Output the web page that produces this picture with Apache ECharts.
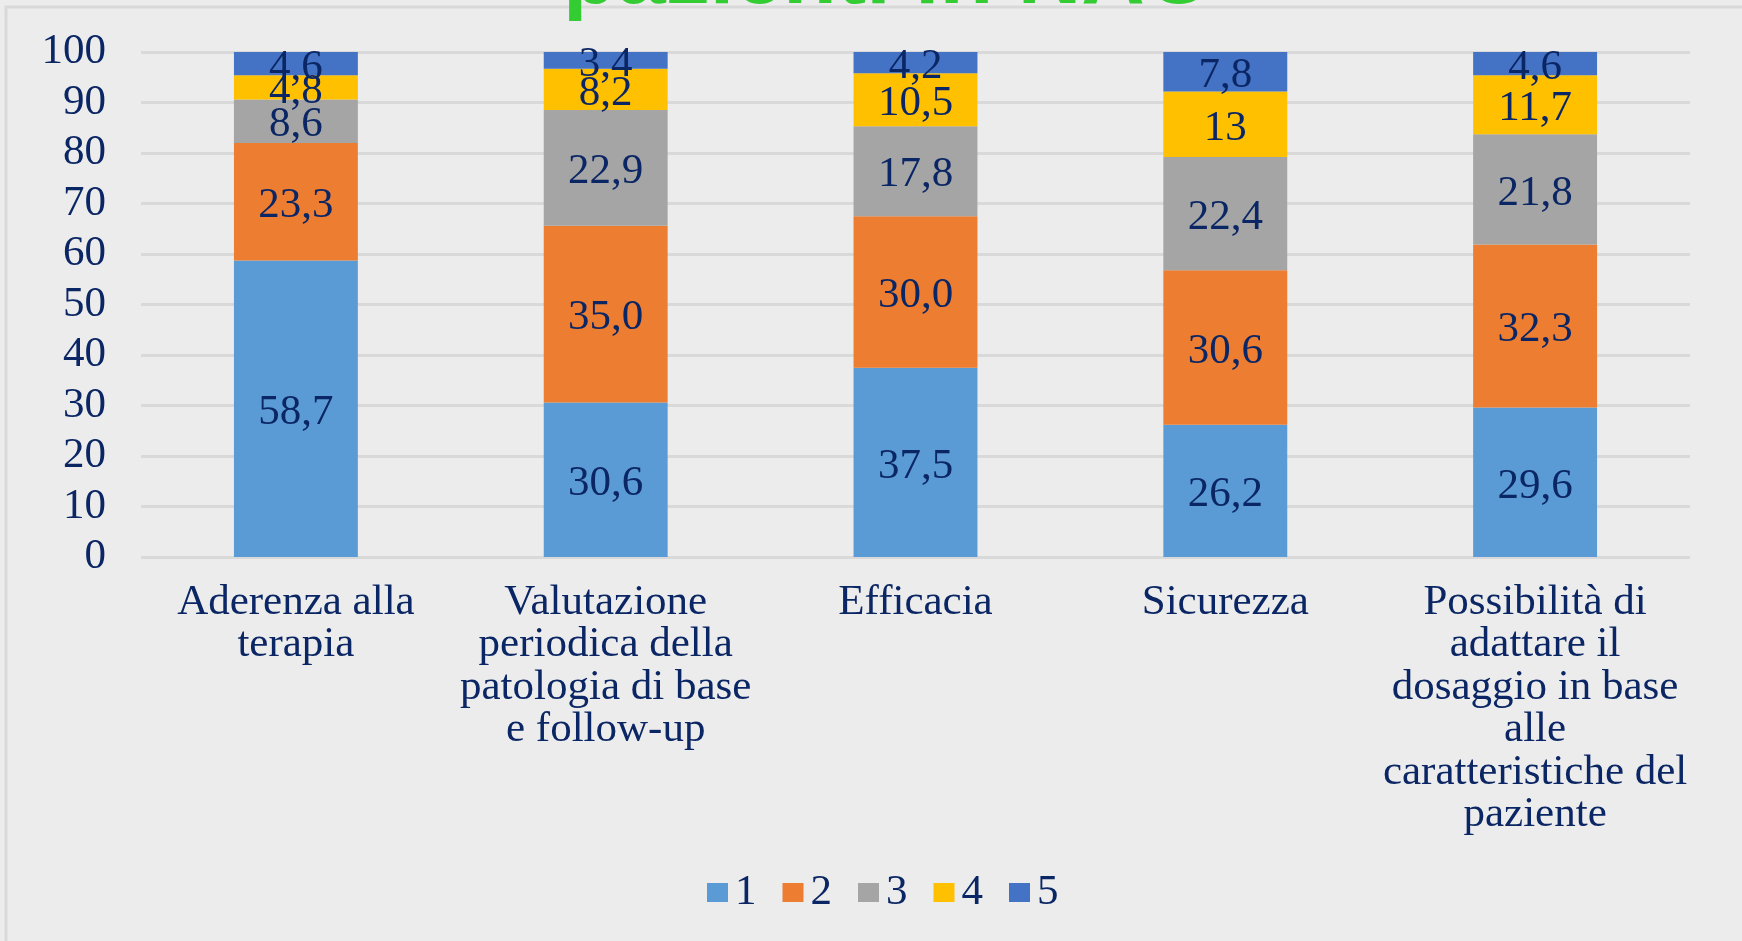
<!DOCTYPE html>
<html>
<head>
<meta charset="utf-8">
<script src="https://cdn.jsdelivr.net/npm/echarts@6/dist/echarts.min.js"></script>
<style>
    html, body { margin: 0; padding: 0; }
    #chart { width: 1742px; height: 941px; }
</style>
</head>
<body>
<div id="chart"></div>
<script>
    // categorie e valori (percentuali)
    var categories = [
        'Aderenza alla\nterapia',
        'Valutazione\nperiodica della\npatologia di base\ne follow-up',
        'Efficacia',
        'Sicurezza',
        'Possibilità di\nadattare il\ndosaggio in base\nalle\ncaratteristiche del\npaziente'
    ];
    var seriesNames = ['1', '2', '3', '4', '5'];
    var score1 = ['58.7', '30.6', '37.5', '26.2', '29.6'];
    var score2 = ['23.3', '35.0', '30.0', '30.6', '32.3'];
    var score3 = ['8.6', '22.9', '17.8', '22.4', '21.8'];
    var score4 = ['4.8', '8.2', '10.5', '13', '11.7'];
    var score5 = ['4.6', '3.4', '4.2', '7.8', '4.6'];
    var yTicks = { min: 0, max: 100, interval: 10 };

    var colors = ['#5b9bd5', '#ed7d31', '#a5a5a5', '#ffc000', '#4472c4'];
    var textColor = '#0b2664';
    var serif = '"Liberation Serif", "DejaVu Serif", serif';

    var myChart = echarts.init(document.getElementById('chart'));

    var allScores = [score1, score2, score3, score4, score5];
    var seriesData = allScores.map(function (arr, i) {
        return {
            name: seriesNames[i],
            type: 'bar',
            stack: 'tot',
            barWidth: '40%',
            data: arr,
            itemStyle: { color: colors[i] },
            label: {
                show: true,
                position: 'inside',
                offset: [0, 4],
                color: textColor,
                fontFamily: serif,
                fontSize: 43,
                formatter: function (p) {
                    return String(p.data).replace('.', ',');
                }
            }
        };
    });

    var option = {
        backgroundColor: '#ececec',
        animation: false,
        title: {
            text: 'pazienti in NAO',
            left: 558,
            top: -70,
            textStyle: {
                color: '#33cc33',
                fontFamily: '"Liberation Sans", Arial, sans-serif',
                fontWeight: 'bold',
                fontSize: 88
            }
        },
        graphic: [{
            type: 'rect',
            shape: { x: 6, y: 7, width: 1760, height: 960 },
            style: { fill: 'none', stroke: '#d9d9d9', lineWidth: 3 },
            silent: true
        }],
        legend: {
            data: seriesNames,
            bottom: 22,
            left: 702,
            itemWidth: 21,
            itemHeight: 19,
            itemGap: 26,
            icon: 'rect',
            textStyle: {
                color: textColor,
                fontFamily: serif,
                fontSize: 43,
                padding: [0, 0, 0, 2]
            }
        },
        grid: {
            top: 52,
            left: 141,
            right: 52,
            bottom: 384,
            containLabel: false
        },
        xAxis: {
            type: 'category',
            data: categories,
            axisLine: { show: false },
            axisTick: { show: false },
            axisLabel: {
                interval: 0,
                margin: 24,
                color: textColor,
                fontFamily: serif,
                fontSize: 43,
                lineHeight: 42.5
            }
        },
        yAxis: {
            type: 'value',
            min: yTicks.min,
            max: yTicks.max,
            interval: yTicks.interval,
            axisLine: { show: false },
            axisTick: { show: false },
            axisLabel: {
                margin: 35,
                color: textColor,
                fontFamily: serif,
                fontSize: 43
            },
            splitLine: {
                lineStyle: { color: '#d9d9d9', width: 3 }
            }
        },
        series: seriesData
    };
    myChart.setOption(option, true);
</script>
</body>
</html>
